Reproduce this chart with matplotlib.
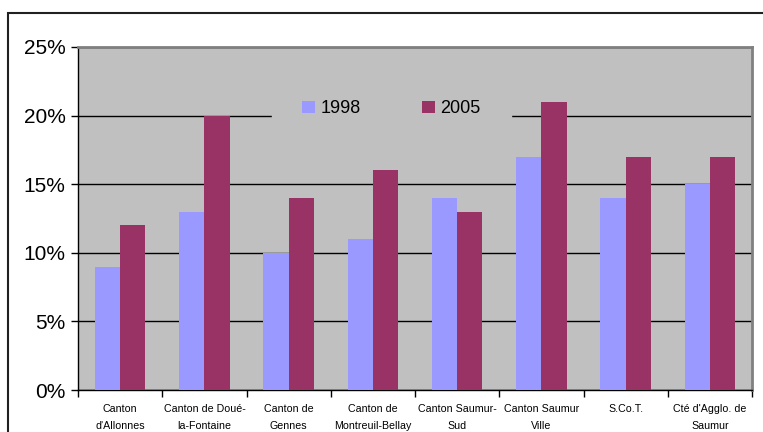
import matplotlib
matplotlib.use("Agg")
import matplotlib.pyplot as plt
import numpy as np
from matplotlib.patches import Rectangle

categories = ["Canton\nd'Allonnes", "Canton de Doué-\nla-Fontaine", "Canton de\nGennes",
              "Canton de\nMontreuil-Bellay", "Canton Saumur-\nSud", "Canton Saumur\nVille",
              "S.Co.T.", "Cté d'Agglo. de\nSaumur"]
series_1998 = [9, 13, 10, 11, 14, 17, 14, 15]
series_2005 = [12, 20, 14, 16, 13, 21, 17, 17]
y_ticks = [0, 5, 10, 15, 20, 25]

plt.rcParams['font.family'] = ['Liberation Sans', 'DejaVu Sans']

fig = plt.figure(figsize=(7.63, 4.32), dpi=100)
W, H = 763, 432
ax = fig.add_axes([78 / W, 1 - 390 / H, (752 - 78) / W, (390 - 47) / H])

ax.set_facecolor("#C0C0C0")
x = np.arange(len(categories))
bw = 0.3
ax.bar(x - bw / 2, series_1998, bw, color="#9999FF", label="1998", zorder=3)
ax.bar(x + bw / 2, series_2005, bw, color="#993366", label="2005", zorder=3)

ax.set_xlim(-0.5, len(categories) - 0.5)
ax.set_ylim(0, 25)
ax.set_yticks(y_ticks)
ax.set_yticklabels([f"{t}%" for t in y_ticks], fontsize=15)
ax.yaxis.grid(True, color="black", linewidth=1, zorder=1)
ax.set_axisbelow(True)

# category labels at group centres, ticks at group boundaries
ax.set_xticks(np.arange(len(categories) + 1) - 0.5)
ax.set_xticklabels([])
ax.tick_params(axis="x", length=5, width=1, color="black")
ax.tick_params(axis="y", length=5, width=1, color="black", pad=4)
for i, c in enumerate(categories):
    ax.text(i, -0.042, c, transform=ax.get_xaxis_transform(), ha="center", va="top",
            fontsize=7.7, linespacing=1.8)

for s in ["top", "right"]:
    ax.spines[s].set_color("#808080")
    ax.spines[s].set_linewidth(2)
for s in ["left", "bottom"]:
    ax.spines[s].set_color("black")
    ax.spines[s].set_linewidth(1)

leg = ax.legend(loc="center", bbox_to_anchor=(0.465, 0.82), ncol=2, frameon=True,
                fontsize=13, handlelength=0.7, handleheight=0.7, columnspacing=3.4,
                handletextpad=0.3, borderpad=1.7)
leg.get_frame().set_facecolor("#C0C0C0")
leg.get_frame().set_edgecolor("#C0C0C0")
leg.get_frame().set_alpha(1)
leg.get_frame().set_boxstyle("square", pad=0)
leg.set_zorder(5)

# outer chart border
fig.patches.append(Rectangle((8 / W, -0.1), 1.0, 1 - 13 / H + 0.1, transform=fig.transFigure,
                             fill=False, edgecolor="#202020", linewidth=1.5))

fig.savefig("out.png", dpi=100)
